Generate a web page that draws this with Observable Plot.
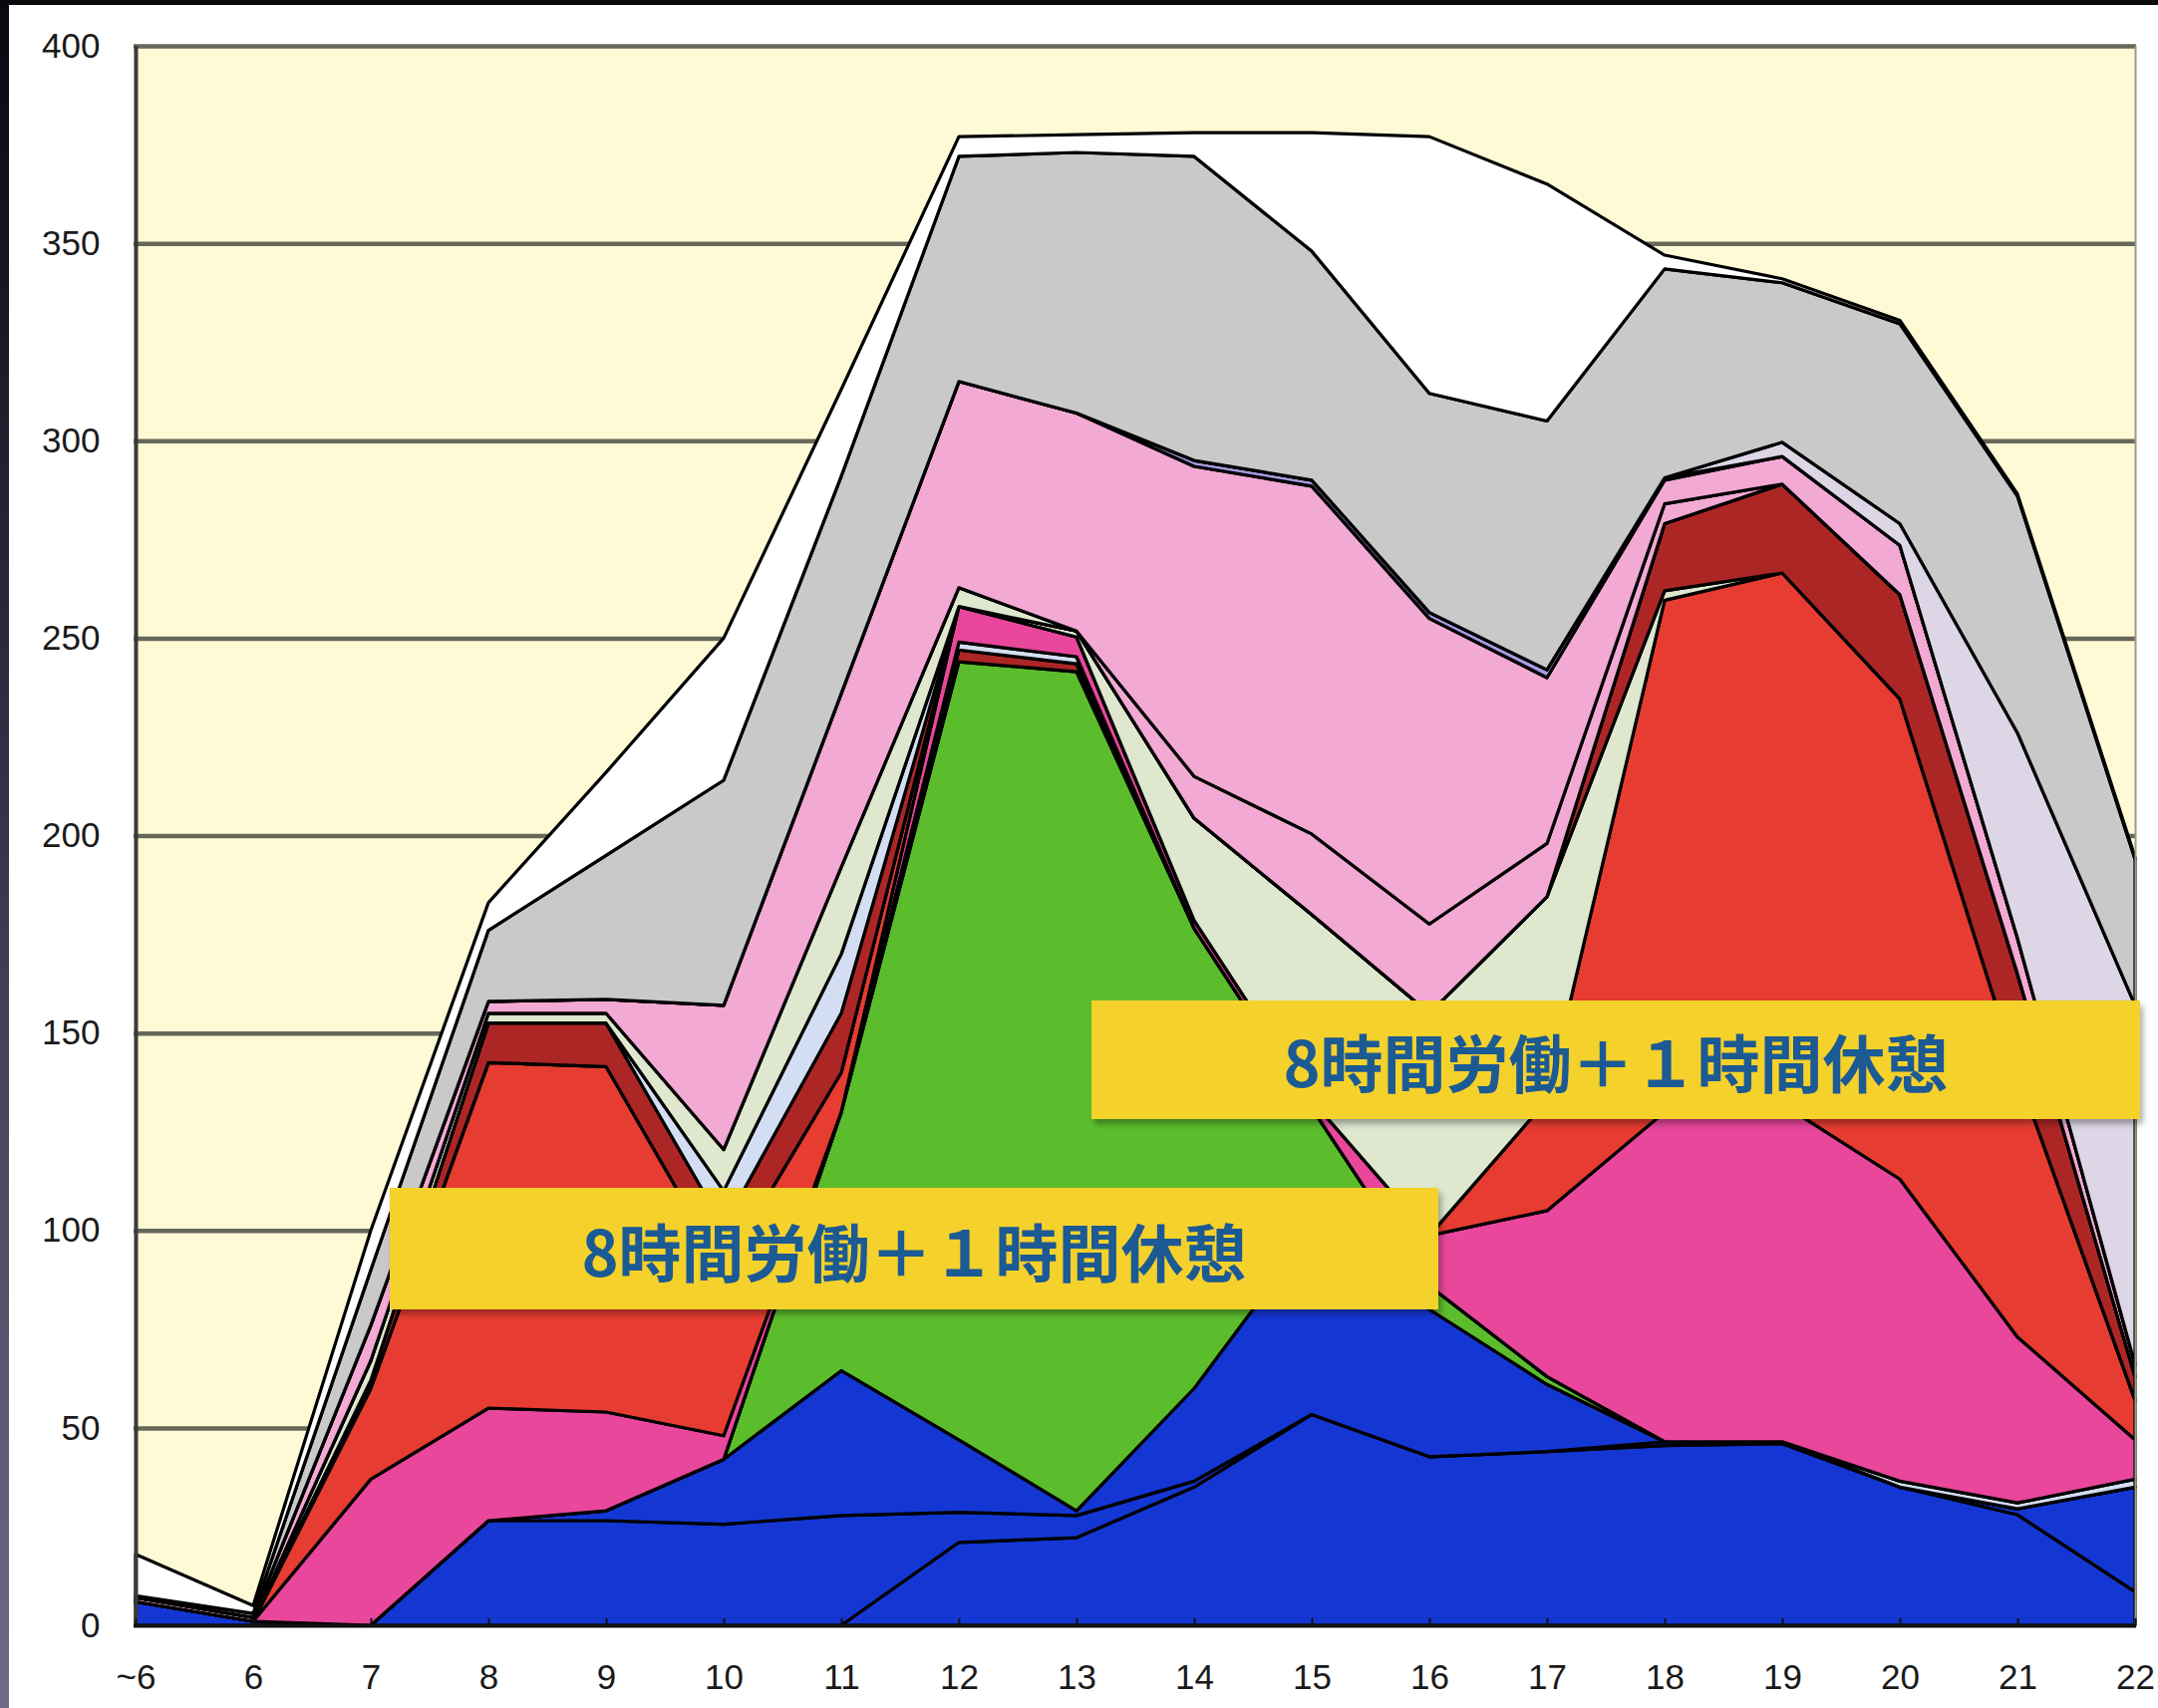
<!DOCTYPE html>
<html>
<head>
<meta charset="utf-8">
<script src="https://cdn.jsdelivr.net/npm/d3@7"></script>
<script src="https://cdn.jsdelivr.net/npm/@observablehq/plot@0.6"></script>
<style>
  html, body { margin: 0; padding: 0; background: #ffffff; }
  #wrap { position: relative; width: 2165px; height: 1714px; overflow: hidden; background: #ffffff; }
  #chart { position: absolute; left: 0; top: 0; }
  .strip-top { position: absolute; left: 0; top: 0; width: 2165px; height: 5px; background: #0b0b0f; }
  .strip-left { position: absolute; left: 0; top: 0; width: 9px; height: 1714px;
    background: linear-gradient(#08080e, #2c2c40 40%, #6c6c86); }
  .note { position: absolute; width: 1052px; background: #f5d12b;
    box-shadow: 3px 5px 6px rgba(0,0,0,0.32);
    display: flex; align-items: center; justify-content: center;
    font-family: "Noto Sans CJK JP", "Noto Sans CJK SC", sans-serif; font-weight: 700;
    font-size: 63px; color: #1c5a94; letter-spacing: 0px; }
</style>
</head>
<body>
<div id="wrap">
  <div id="chart"></div>
  <div class="note" id="noteUpper" style="left:1095px; top:1004px; height:119px;"></div>
  <div class="note" id="noteLower" style="left:391px; top:1192px; height:122px;"></div>
  <div class="strip-top"></div>
  <div class="strip-left"></div>
</div>
<script>
// ---- categories and ticks ----
const hours = ["~6","6","7","8","9","10","11","12","13","14","15","16","17","18","19","20","21","22"];
const yTicks = [0, 50, 100, 150, 200, 250, 300, 350, 400];
const noteText = "8時間労働＋１時間休憩";

// ---- series values (stack order: bottom to top) ----
const blueA      = [6, 1, 0, 0, 0, 0, 0, 21, 22.2, 35, 53.4, 42.7, 44, 45.5, 46, 35, 28, 8.5];
const blueB      = [0, 0, 0, 26.5, 26.5, 25.6, 27.8, 7.6, 5.6, 1.5, 0, 0, 0, 1, 0.5, 0, 1.5, 26.5];
const blueC      = [0, 0, 0, 0, 2.5, 16.4, 36.7, 18.4, 1.2, 23.5, 46.6, 37.3, 17, 0, 0, 0, 0, 0];
const green      = [0, 0, 0, 0, 0, 0, 65.5, 197, 212.5, 116.5, 31, 6, 2, 0, 0, 0, 0, 0];
const darkRed2   = [0, 0, 0, 0, 0, 0, 0, 3, 2, 0, 0, 0, 0, 0, 0, 0, 0, 0];
const lightBlue2 = [0, 0, 0, 0, 0, 0, 0, 2, 1.8, 0, 0, 0, 0, 0, 0, 1.5, 1.5, 2];
const magenta    = [0, 0, 37, 28.5, 25, 6, 0, 9, 5, 2, 2, 12.7, 42, 83.5, 85.5, 76.5, 42, 10];
const red        = [0, 0, 23, 87.5, 87.5, 42, 10, 0, 0, 0, 0, 0, 28, 129.6, 134.5, 121.6, 67, 10];
const lightGreen = [0, 0, 0, 0, 0, 0, 0, 0, 1.5, 25.9, 47, 56.3, 51.5, 2.4, 0, 0, 0, 0];
const darkRed    = [0, 0, 2, 10, 11, 11, 15, 0, 0, 0, 0, 0, 0, 17, 22.5, 26.4, 25, 6];
const lightBlue  = [0, 0, 0, 0, 0, 9, 15, 0, 0, 0, 0, 0, 0, 0, 0, 0, 0, 0];
const lightGreen2= [0, 0, 5, 2.5, 2.5, 10.5, 22, 4.8, 0, 0, 0, 0, 0, 0, 0, 0, 0, 0];
const pink       = [0, 0, 0, 0, 0, 0, 0, 0, 0, 10.6, 20.4, 22.6, 13.5, 5, 0, 0, 0, 0];
const pink2      = [1, 1, 9, 3, 3.5, 36.5, 44, 52.2, 55.2, 78.5, 88.1, 77.4, 42, 6, 7, 12.5, 9, 3];
const purple     = [0, 0, 0, 0, 0, 0, 0, 0, 0, 1.5, 1.5, 1.5, 2, 0.6, 0, 0, 0, 0];
const lavender   = [0, 0, 0, 0, 0, 0, 0, 0, 0, 0, 0, 0, 0, 0, 3.6, 5.5, 52, 91];
const gray       = [0.5, 1, 14, 18, 36.5, 57, 55, 57, 66, 77, 58, 55.5, 63, 52.9, 40.4, 50.6, 60, 37];
const white      = [10.5, 2, 10, 7, 21, 36, 22, 5, 4.5, 6, 30, 65, 60, 3.5, 1, 0.9, 0.5, 0.5];

const seriesNames  = ["blueA","blueB","blueC","green","darkRed2","lightBlue2","magenta","red","lightGreen","darkRed","lightBlue","lightGreen2","pink","pink2","purple","lavender","gray","white"];
const seriesValues = [blueA, blueB, blueC, green, darkRed2, lightBlue2, magenta, red, lightGreen, darkRed, lightBlue, lightGreen2, pink, pink2, purple, lavender, gray, white];
const seriesColors = ["#1437d4","#1437d4","#1437d4","#5cbd2c","#ad2626","#d3def2","#e8479b","#e63c31","#dfe7cf","#ad2626","#d3def2","#dfe7cf","#f2a9d3","#f2a9d3","#ab99e3","#dcd6e7","#c9c9c9","#ffffff"];

const data = seriesNames.flatMap((name, k) =>
  hours.map((h, i) => ({hour: h, series: name, value: seriesValues[k][i]})));

const chart = Plot.plot({
  width: 2165,
  height: 1714,
  marginLeft: 134,
  marginRight: 22,
  marginTop: 46,
  marginBottom: 83,
  style: {background: "transparent", fontSize: "35px", fontFamily: "'Liberation Sans', Arial, sans-serif", color: "#1a1a1a"},
  x: {type: "point", domain: hours, padding: 0, label: null, tickSize: 0, tickPadding: 39},
  y: {domain: [0, 400], ticks: yTicks, label: null, tickSize: 0, tickPadding: 34},
  color: {type: "ordinal", domain: seriesNames, range: seriesColors},
  marks: [
    Plot.frame({fill: "#fffad6", stroke: "none"}),
    Plot.ruleY(yTicks.filter(d => d > 0), {stroke: "#67675a", strokeWidth: 4.5}),
    Plot.areaY(data, Plot.stackY({
      x: "hour", y: "value", z: "series", fill: "series",
      order: seriesNames,
      stroke: "#000", strokeWidth: 3.2, strokeLinejoin: "round"
    })),
    Plot.ruleX(hours.slice(-1), {stroke: "#9b9b8c", strokeWidth: 2}),
    Plot.ruleX(hours.slice(0, 1), {stroke: "#3b3b3b", strokeWidth: 4}),
    Plot.ruleX(hours, {y1: 0, y2: 1.8, stroke: "#111", strokeWidth: 2}),
    Plot.ruleY([0], {stroke: "#111", strokeWidth: 4})
  ]
});
document.getElementById("chart").appendChild(chart);
document.getElementById("noteUpper").textContent = noteText;
document.getElementById("noteLower").textContent = noteText;
</script>
</body>
</html>
